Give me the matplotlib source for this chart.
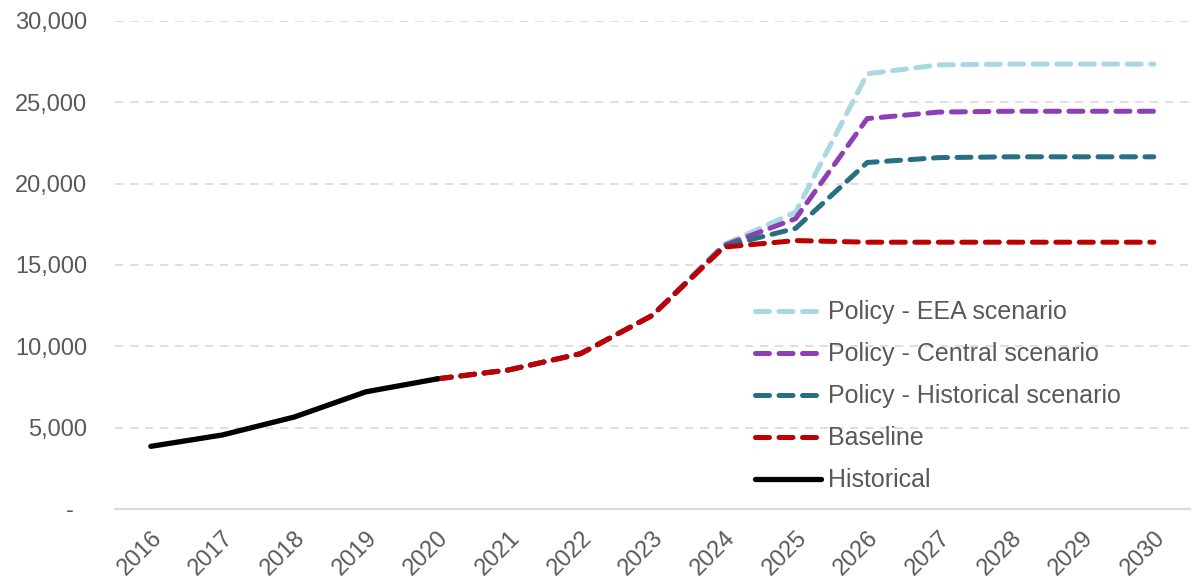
import matplotlib.pyplot as plt
import matplotlib.ticker as mticker

plt.rcParams['font.family'] = ['Liberation Sans', 'DejaVu Sans']

years = [str(y) for y in range(2016, 2031)]

# Historical values 2016-2020
historical = [3850, 4550, 5650, 7200, 8000]

# Projections 2020-2030
proj_years = years[4:]
baseline = [8000, 8550, 9550, 11900, 16100, 16500, 16400, 16400, 16400, 16400, 16400]
policy_hist = [8000, 8550, 9550, 11900, 16150, 17250, 21300, 21600, 21650, 21650, 21650]
policy_central = [8000, 8550, 9550, 11900, 16200, 17850, 24000, 24400, 24450, 24450, 24450]
policy_eea = [8000, 8550, 9550, 11900, 16250, 18250, 26750, 27300, 27350, 27350, 27350]

fig = plt.figure(figsize=(11.92, 5.83), dpi=100)
ax = fig.add_axes([0.0965, 0.127, 0.9015, 0.837])

x_all = list(range(len(years)))
x_proj = x_all[4:]
x_hist = x_all[:5]

dash = dict(lw=3.6, dashes=(2.8, 1.9), dash_capstyle='round', solid_capstyle='round')
ax.plot(x_proj, policy_eea, color='#a9d7e3', label='Policy - EEA scenario', **dash)
ax.plot(x_proj, policy_central, color='#8e3fb3', label='Policy - Central scenario', **dash)
ax.plot(x_proj, policy_hist, color='#276f82', label='Policy - Historical scenario', **dash)
ax.plot(x_proj, baseline, color='#c00000', label='Baseline', **dash)
ax.plot(x_hist, historical, color='black', lw=3.8, solid_capstyle='round', label='Historical')

ax.set_xlim(-0.5, len(years) - 0.5)
ax.set_ylim(0, 30000)
ax.set_xticks(x_all)
ax.set_xticklabels(years, rotation=45, ha='right', rotation_mode='anchor')
ax.set_yticks(range(0, 30001, 5000))
# accounting-style axis: zero shown as a dash
ax.yaxis.set_major_formatter(mticker.FuncFormatter(lambda v, p: '-  ' if v == 0 else f'{int(v):,}'))
ax.tick_params(axis='both', length=0, labelsize=17, colors='#595959')
ax.tick_params(axis='y', pad=20)
ax.tick_params(axis='x', pad=13)

ax.grid(axis='y', color='#d9d9d9', linestyle=(0, (5, 4)), lw=1.2)
for s in ['top', 'right', 'left']:
    ax.spines[s].set_visible(False)
ax.spines['bottom'].set_color('#d9d9d9')
ax.spines['bottom'].set_linewidth(1.5)
ax.set_axisbelow(True)

leg = ax.legend(loc='upper left', bbox_to_anchor=(0.586, 0.448), frameon=False,
                fontsize=18, handlelength=2.65, labelspacing=0.72, handletextpad=0.28,
                borderaxespad=0)
for t in leg.get_texts():
    t.set_color('#595959')

fig.savefig('out.png', dpi=100)
